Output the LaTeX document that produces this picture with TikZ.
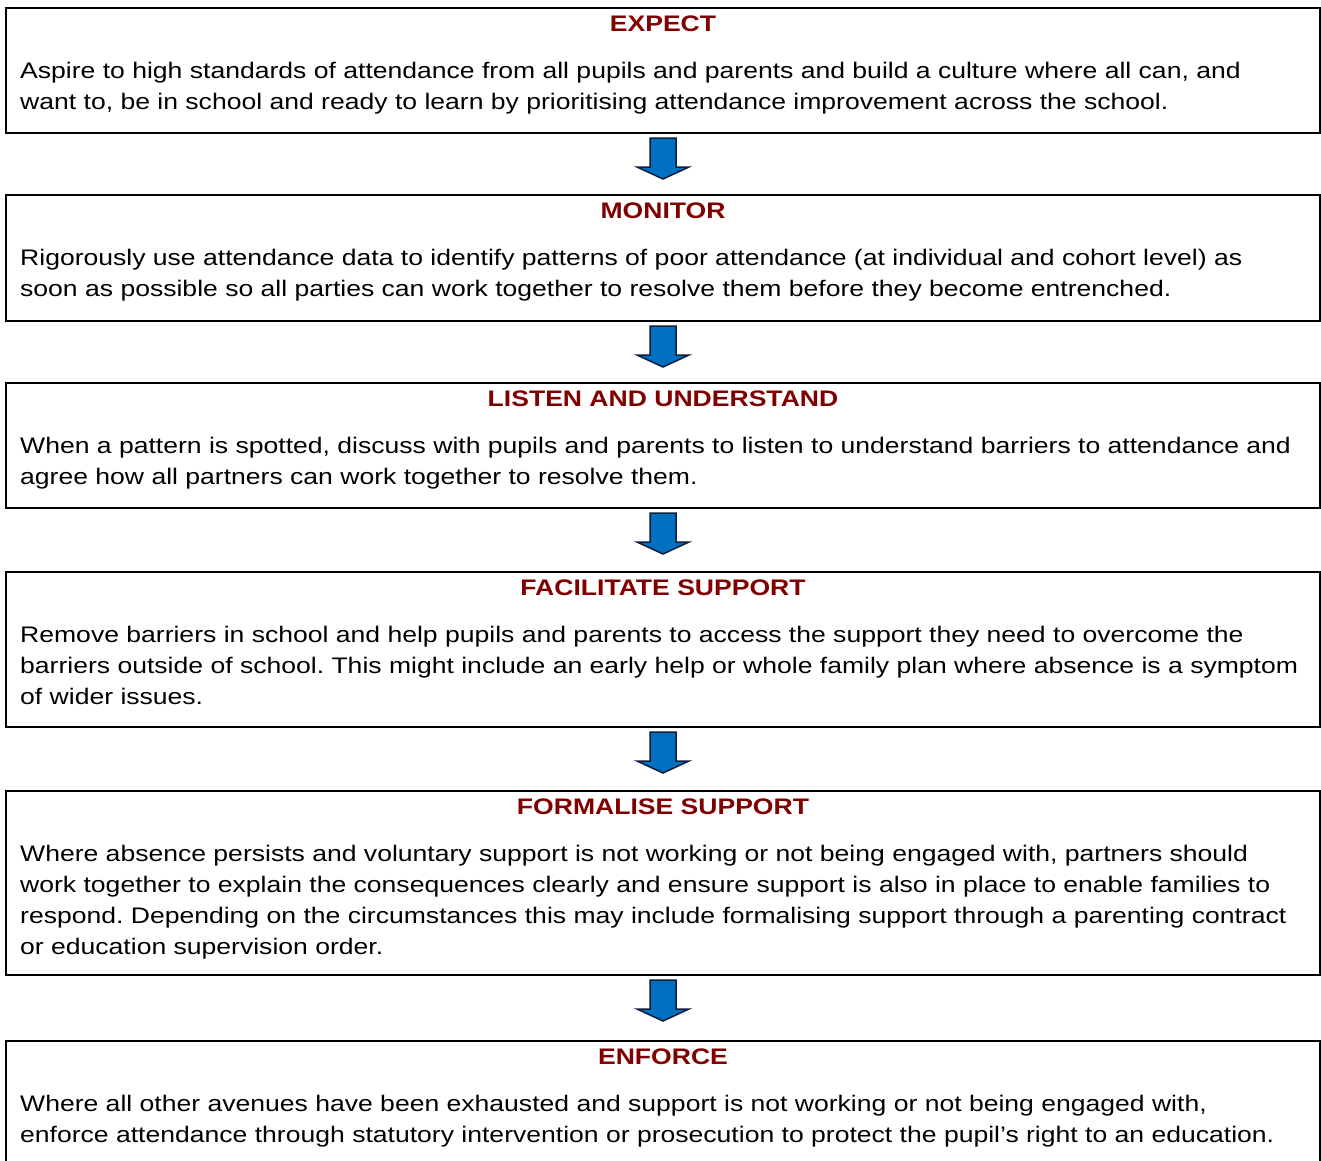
\documentclass[tikz,border=0pt]{standalone}
\usepackage{fontspec}
\setmainfont[FakeStretch=1.18]{Liberation Sans}
\usetikzlibrary{calc}
\frenchspacing
\definecolor{titlered}{RGB}{128,0,0}
\definecolor{arrowblue}{RGB}{0,112,192}
\definecolor{arrowedge}{RGB}{10,30,60}
\tikzset{
  stagebox/.style={draw=black, line width=2pt, rectangle, inner sep=0pt, anchor=north west, minimum width=1314pt},
  stagetitle/.style={anchor=base, inner sep=0pt, text=titlered, font=\fontsize{22.5}{31}\selectfont\bfseries},
  stagetext/.style={anchor=base west, inner sep=0pt, font=\fontsize{22.5}{31}\selectfont},
  blockarrow/.style={fill=arrowblue, draw=arrowedge, line width=1.5pt, line join=miter}
}
\newcommand{\bodytext}[1]{\parbox[t]{1300pt}{\raggedright\frenchspacing #1}}
\newcommand{\stagearrow}[2]{%
  \draw[blockarrow] ($(#1.south)+(-13,4)$) -- ++(26,0) -- ++(0,29) -- ++(13,0) -- ++(-26,12) -- ++(-26,-12) -- ++(13,0) -- cycle;}
\begin{document}
\begin{tikzpicture}[x=1pt,y=-1pt]
\useasboundingbox (0,0) rectangle (1321,1160);
\clip (0,0) rectangle (1321,1160);
% boxes
\node[stagebox, minimum height=125pt] (b1) at (5,7) {};
\node[stagebox, minimum height=126pt] (b2) at (5,194) {};
\node[stagebox, minimum height=125pt] (b3) at (5,382) {};
\node[stagebox, minimum height=155pt] (b4) at (5,571) {};
\node[stagebox, minimum height=184pt] (b5) at (5,790) {};
\node[stagebox, minimum height=140pt] (b6) at (5,1040) {};
% titles
\node[stagetitle] (t1) at ($(b1.north)+(0,24)$) {EXPECT};
\node[stagetitle] (t2) at ($(b2.north)+(0,24)$) {MONITOR};
\node[stagetitle] (t3) at ($(b3.north)+(0,24)$) {LISTEN AND UNDERSTAND};
\node[stagetitle] (t4) at ($(b4.north)+(0,24)$) {FACILITATE SUPPORT};
\node[stagetitle] (t5) at ($(b5.north)+(0,24)$) {FORMALISE SUPPORT};
\node[stagetitle] (t6) at ($(b6.north)+(0,24)$) {ENFORCE};
% texts
\node[stagetext] (x1) at ($(b1.north west)+(15,71)$) {\bodytext{Aspire to high standards of attendance from all pupils and parents and build a culture where all can, and\\want to, be in school and ready to learn by prioritising attendance improvement across the school.}};
\node[stagetext] (x2) at ($(b2.north west)+(15,71)$) {\bodytext{Rigorously use attendance data to identify patterns of poor attendance (at individual and cohort level) as\\soon as possible so all parties can work together to resolve them before they become entrenched.}};
\node[stagetext] (x3) at ($(b3.north west)+(15,71)$) {\bodytext{When a pattern is spotted, discuss with pupils and parents to listen to understand barriers to attendance and\\agree how all partners can work together to resolve them.}};
\node[stagetext] (x4) at ($(b4.north west)+(15,71)$) {\bodytext{Remove barriers in school and help pupils and parents to access the support they need to overcome the\\barriers outside of school. This might include an early help or whole family plan where absence is a symptom\\of wider issues.}};
\node[stagetext] (x5) at ($(b5.north west)+(15,71)$) {\bodytext{Where absence persists and voluntary support is not working or not being engaged with, partners should\\work together to explain the consequences clearly and ensure support is also in place to enable families to\\respond. Depending on the circumstances this may include formalising support through a parenting contract\\or education supervision order.}};
\node[stagetext] (x6) at ($(b6.north west)+(15,71)$) {\bodytext{Where all other avenues have been exhausted and support is not working or not being engaged with,\\enforce attendance through statutory intervention or prosecution to protect the pupil’s right to an education.}};
% arrows
\stagearrow{b1}{b2}
\stagearrow{b2}{b3}
\stagearrow{b3}{b4}
\stagearrow{b4}{b5}
\stagearrow{b5}{b6}
\end{tikzpicture}
\end{document}
